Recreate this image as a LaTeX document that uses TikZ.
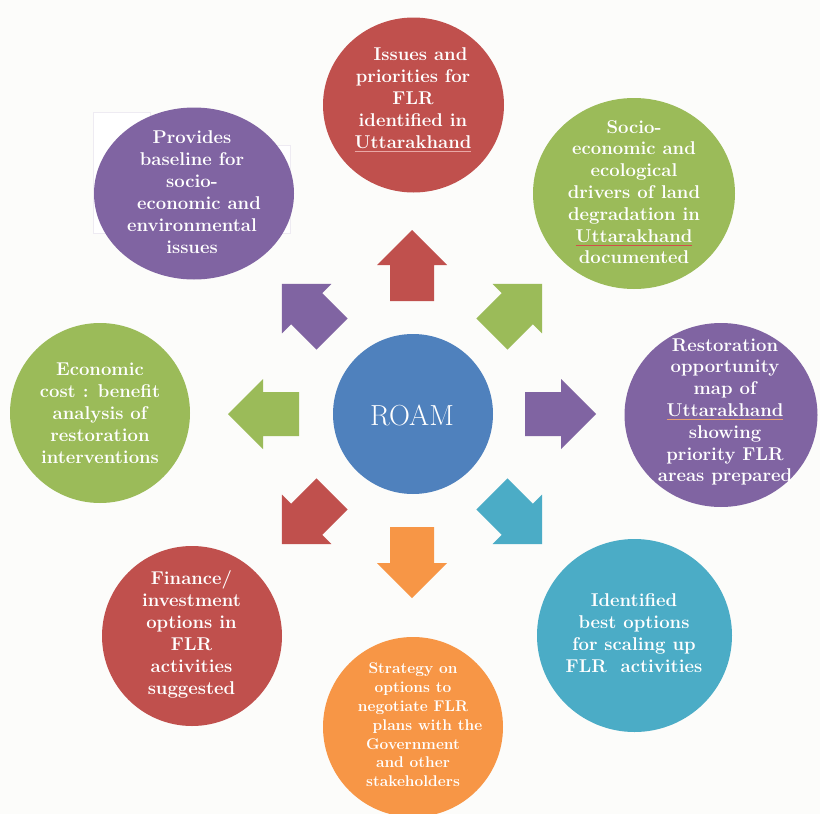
\documentclass[tikz,border=0pt]{standalone}
\usepackage{fontspec}
\usetikzlibrary{shapes.geometric}
\definecolor{bgc}{HTML}{FCFCFA}
\definecolor{ofred}{HTML}{C0504D}
\definecolor{ofgreen}{HTML}{9BBB59}
\definecolor{ofpurple}{HTML}{8064A2}
\definecolor{ofblue}{HTML}{4F81BD}
\definecolor{ofteal}{HTML}{4BACC6}
\definecolor{oforange}{HTML}{F79646}
\definecolor{ulpink}{HTML}{E9A8A6}
\definecolor{ulred}{HTML}{D2504A}
\definecolor{ulorange}{HTML}{E8A070}
\definecolor{boxline}{HTML}{EEEBF2}
\newsavebox\ulbox
\newcommand{\spellul}[2]{\sbox\ulbox{#2}\rlap{\textcolor{#1}{\rule[-3.5pt]{\wd\ulbox}{0.8pt}}}\usebox\ulbox}
\newcommand{\blockarrow}[2]{\fill[#2, shift={(412,414)}, rotate=#1]
  (113,-22) -- (149,-22) -- (149,-35) -- (184,0) -- (149,35) -- (149,22) -- (113,22) -- cycle;}
\tikzset{
  bubble/.style={ellipse, inner sep=0pt, draw=none},
  btext/.style={text=white, align=center, inner sep=0pt,
    font=\bfseries\fontsize{18.5}{22}\selectfont},
  stext/.style={text=white, align=center, inner sep=0pt,
    font=\bfseries\fontsize{15.5}{18.8}\selectfont}
}
\begin{document}
\begin{tikzpicture}[x=1pt,y=-1pt]
\fill[bgc] (0,0) rectangle (820,814);
\useasboundingbox (0,0) rectangle (820,814);
% white text box behind top-left bubble
\filldraw[fill=white, draw=boxline, line width=0.5pt]
  (93,112) -- (150,112) -- (150,145) -- (290,145) -- (290,233) -- (93,233) -- cycle;
% bubbles
\node[bubble, fill=ofblue, minimum width=160pt, minimum height=160pt] (roam) at (413,414) {};
\node[bubble, fill=ofred, minimum width=181pt, minimum height=175pt] (top) at (413.5,105) {};
\node[bubble, fill=ofpurple, minimum width=200pt, minimum height=172pt] (tl) at (194,193.5) {};
\node[bubble, fill=ofgreen, minimum width=202pt, minimum height=191pt] (tr) at (634,193.5) {};
\node[bubble, fill=ofgreen, minimum width=180pt, minimum height=180pt] (lf) at (100,413) {};
\node[bubble, fill=ofpurple, minimum width=193pt, minimum height=184pt] (rt) at (721,415) {};
\node[bubble, fill=ofteal, minimum width=195pt, minimum height=193pt] (br) at (634.5,635.5) {};
\node[bubble, fill=oforange, minimum width=180pt, minimum height=180pt] (bt) at (413,727) {};
\node[bubble, fill=ofred, minimum width=180pt, minimum height=180pt] (bl) at (192,636) {};
% arrows
\blockarrow{90}{ofred}
\blockarrow{45}{ofgreen}
\blockarrow{0}{ofpurple}
\blockarrow{-45}{ofteal}
\blockarrow{-90}{oforange}
\blockarrow{-135}{ofred}
\blockarrow{180}{ofgreen}
\blockarrow{135}{ofpurple}
% texts
\node[text=white, inner sep=0pt, font=\fontsize{29}{32}\selectfont] (roamt) at (412,415) {ROAM};
\node[btext] (toptext) at (413,100) {\hspace*{15pt}Issues and\\priorities for\\FLR\\identified in\\\spellul{ulpink}{Uttarakhand}};
\node[btext] (tltext) at (192,192) {Provides\\baseline for\\socio-\\\hspace*{14pt}economic and\\environmental\\issues};
\node[btext, font=\bfseries\fontsize{18.5}{21.8}\selectfont] (trtext) at (634,192) {Socio-\\economic and\\ecological\\drivers of land\\degradation in\\\spellul{ulred}{Uttarakhand}\\documented};
\node[btext] (lftext) at (100,413) {Economic\\cost : benefit\\analysis of\\restoration\\interventions};
\node[btext, font=\bfseries\fontsize{18.5}{21.8}\selectfont] (rttext) at (725,412) {Restoration\\opportunity\\map of\\\spellul{ulorange}{Uttarakhand}\\showing\\priority FLR\\areas prepared};
\node[btext] (brtext) at (634,633) {Identified\\best options\\for scaling up\\FLR~~activities};
\node[stext] (bttext) at (413,725) {Strategy on\\options to\\negotiate FLR\\\hspace*{29pt}plans with the\\Government\\and other\\stakeholders};
\node[btext] (bltext) at (191.5,634) {Finance/\\investment\\options in\\FLR\\activities\\suggested};
\end{tikzpicture}
\end{document}
